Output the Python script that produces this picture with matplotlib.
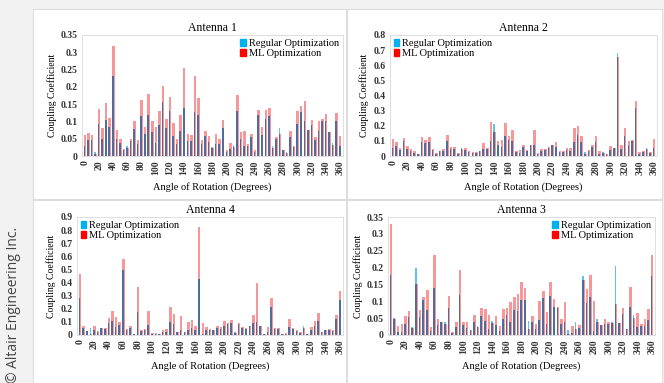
import matplotlib
matplotlib.use("Agg")
import matplotlib.pyplot as plt
from matplotlib.patches import Patch, Rectangle
from matplotlib.ticker import FuncFormatter
import numpy as np

plt.rcParams['font.family'] = ['Liberation Serif', 'DejaVu Serif']

# angles 0..360 every 5 degrees
angles = np.arange(0, 365, 5)

# Antenna 1
ant1_regular = [0.028, 0.045, 0.046, 0.012, 0.092, 0.05, 0.103, 0.085, 0.232, 0.05,
                0.038, 0.018, 0.03, 0.043, 0.078, 0.035, 0.115, 0.063, 0.12, 0.07,
                0.038, 0.09, 0.157, 0.082, 0.13, 0.057, 0.035, 0.073, 0.138, 0.042,
                0.042, 0.127, 0.12, 0.035, 0.057, 0.04, 0.025, 0.035, 0.035, 0.08,
                0.012, 0.02, 0.033, 0.13, 0.048, 0.028, 0.028, 0.055, 0.012, 0.118,
                0.062, 0.107, 0.117, 0.028, 0.05, 0.082, 0.018, 0.012, 0.055, 0.025,
                0.092, 0.127, 0.1, 0.075, 0.09, 0.045, 0.073, 0.1, 0.1, 0.068,
                0.038, 0.1, 0.03]
ant1_ml = [0.062, 0.067, 0.06, 0.005, 0.135, 0.082, 0.153, 0.11, 0.317, 0.075,
           0.05, 0.02, 0.022, 0.05, 0.1, 0.045, 0.162, 0.085, 0.18, 0.102,
           0.085, 0.13, 0.203, 0.107, 0.172, 0.095, 0.048, 0.118, 0.255, 0.065,
           0.06, 0.23, 0.168, 0.045, 0.072, 0.057, 0.022, 0.065, 0.05, 0.105,
           0.017, 0.037, 0.025, 0.177, 0.07, 0.072, 0.035, 0.065, 0.017, 0.132,
           0.085, 0.132, 0.138, 0.022, 0.055, 0.065, 0.017, 0.01, 0.072, 0.03,
           0.13, 0.145, 0.16, 0.075, 0.103, 0.055, 0.1, 0.108, 0.122, 0.07,
           0.033, 0.125, 0.057]

# Antenna 2
ant2_regular = [0.05, 0.065, 0.04, 0.1, 0.045, 0.03, 0.02, 0.01, 0.09, 0.085,
                0.09, 0.04, 0.015, 0.03, 0.03, 0.1, 0.045, 0.045, 0.015, 0.055,
                0.04, 0.025, 0.02, 0.02, 0.035, 0.045, 0.045, 0.1, 0.21, 0.075,
                0.06, 0.13, 0.105, 0.1, 0.025, 0.02, 0.06, 0.035, 0.07, 0.075,
                0.015, 0.035, 0.04, 0.055, 0.07, 0.06, 0.025, 0.025, 0.04, 0.035,
                0.09, 0.14, 0.09, 0.025, 0.035, 0.06, 0.09, 0.015, 0.025, 0.01,
                0.04, 0.05, 0.68, 0.045, 0.135, 0.075, 0.1, 0.32, 0.015, 0.025,
                0.05, 0.02, 0.055]
ant2_ml = [0.115, 0.09, 0.05, 0.12, 0.065, 0.045, 0.03, 0.01, 0.125, 0.105,
           0.125, 0.045, 0.02, 0.035, 0.045, 0.14, 0.06, 0.06, 0.02, 0.045,
           0.05, 0.03, 0.025, 0.025, 0.03, 0.085, 0.055, 0.225, 0.16, 0.1,
           0.105, 0.215, 0.135, 0.17, 0.03, 0.04, 0.07, 0.04, 0.07, 0.175,
           0.02, 0.045, 0.045, 0.06, 0.07, 0.095, 0.035, 0.03, 0.055, 0.05,
           0.185, 0.2, 0.135, 0.015, 0.04, 0.075, 0.135, 0.03, 0.02, 0.01,
           0.065, 0.05, 0.655, 0.07, 0.185, 0.1, 0.105, 0.365, 0.025, 0.03,
           0.045, 0.025, 0.11]

# Antenna 4
ant4_regular = [0.28, 0.055, 0.03, 0.055, 0.04, 0.02, 0.055, 0.045, 0.095, 0.11,
                0.06, 0.075, 0.495, 0.04, 0.055, 0.005, 0.175, 0.03, 0.04, 0.075,
                0.01, 0.01, 0.005, 0.02, 0.025, 0.1, 0.085, 0.02, 0.04, 0.02,
                0.04, 0.05, 0.04, 0.43, 0.005, 0.04, 0.035, 0.035, 0.05, 0.045,
                0.07, 0.085, 0.09, 0.02, 0.085, 0.05, 0.045, 0.065, 0.095, 0.1,
                0.065, 0.005, 0.02, 0.21, 0.045, 0.045, 0.005, 0.005, 0.06, 0.045,
                0.03, 0.015, 0.065, 0.005, 0.035, 0.065, 0.11, 0.02, 0.035, 0.035,
                0.03, 0.12, 0.265]
ant4_ml = [0.465, 0.07, 0.03, 0.01, 0.065, 0.03, 0.055, 0.05, 0.13, 0.185,
           0.14, 0.1, 0.58, 0.045, 0.065, 0.01, 0.365, 0.035, 0.045, 0.18,
           0.015, 0.015, 0.005, 0.035, 0.045, 0.215, 0.16, 0.025, 0.145, 0.02,
           0.1, 0.115, 0.065, 0.82, 0.095, 0.06, 0.045, 0.04, 0.07, 0.06,
           0.105, 0.09, 0.115, 0.015, 0.09, 0.06, 0.055, 0.065, 0.15, 0.4,
           0.07, 0.01, 0.06, 0.28, 0.055, 0.055, 0.005, 0.015, 0.12, 0.055,
           0.035, 0.02, 0.055, 0.01, 0.06, 0.11, 0.165, 0.025, 0.04, 0.045,
           0.04, 0.15, 0.335]

# Antenna 3
ant3_regular = [0.178, 0.05, 0.008, 0.008, 0.033, 0.053, 0.025, 0.198, 0.052, 0.103,
                0.073, 0.013, 0.14, 0.03, 0.04, 0.04, 0.08, 0.005, 0.025, 0.12,
                0.03, 0.02, 0.015, 0.038, 0.028, 0.055, 0.043, 0.018, 0.043, 0.03,
                0.012, 0.048, 0.06, 0.038, 0.075, 0.07, 0.103, 0.103, 0.042, 0.038,
                0.018, 0.045, 0.11, 0.033, 0.115, 0.083, 0.08, 0.033, 0.038, 0.015,
                0.005, 0.038, 0.022, 0.175, 0.095, 0.113, 0.013, 0.047, 0.03, 0.033,
                0.033, 0.038, 0.205, 0.035, 0.062, 0.017, 0.083, 0.06, 0.025, 0.028,
                0.028, 0.045, 0.175]
ant3_ml = [0.33, 0.048, 0.027, 0.033, 0.057, 0.072, 0.022, 0.15, 0.075, 0.112,
           0.132, 0.025, 0.238, 0.048, 0.04, 0.033, 0.115, 0.01, 0.04, 0.193,
           0.04, 0.038, 0.015, 0.06, 0.025, 0.08, 0.077, 0.06, 0.035, 0.055,
           0.027, 0.077, 0.08, 0.097, 0.113, 0.123, 0.157, 0.14, 0.018, 0.055,
           0.033, 0.1, 0.13, 0.067, 0.157, 0.107, 0.082, 0.047, 0.097, 0.003,
           0.027, 0.017, 0.03, 0.162, 0.135, 0.178, 0.1, 0.04, 0.03, 0.047,
           0.04, 0.035, 0.093, 0.035, 0.08, 0.018, 0.143, 0.05, 0.065, 0.033,
           0.048, 0.077, 0.237]

BLUE = '#62c2ea'
RED = '#f6979a'
DARK = '#4f6c9f'

fig = plt.figure(figsize=(6.64, 3.83), dpi=100)
fig.patch.set_facecolor('#f2f2f2')

W, H = 664.0, 383.0

def px_rect(x0, y0, x1, y1):
    # pixel box (from top-left) -> figure fraction [left, bottom, width, height]
    return [x0 / W, 1 - y1 / H, (x1 - x0) / W, (y1 - y0) / H]

# white chart areas, kept behind the axes
for box in [(33, 9, 346, 199), (347, 9, 662, 199), (33, 200, 346, 383), (347, 200, 662, 383)]:
    l, b, w, h = px_rect(*box)
    fig.patches.append(Rectangle((l, b), w, h, transform=fig.transFigure,
                                 facecolor='white', edgecolor='#dddddd', lw=0.8, zorder=-10))

panels = [
    ("Antenna 1", ant1_regular, ant1_ml, 0.35, 0.05, (82, 35, 343, 156), 'upper right'),
    ("Antenna 2", ant2_regular, ant2_ml, 0.8, 0.1, (390, 35, 657, 156), 'upper left'),
    ("Antenna 4", ant4_regular, ant4_ml, 0.9, 0.1, (77, 217, 343, 335), 'upper left'),
    ("Antenna 3", ant3_regular, ant3_ml, 0.35, 0.05, (388, 217, 655, 335), 'upper right'),
]

for title, reg, ml, ymax, ystep, box, loc in panels:
    ax = fig.add_axes(px_rect(*box), zorder=5)
    reg = np.array(reg)
    ml = np.array(ml)
    # red bar spans the pair, blue sits on its left part; overlap drawn darker
    ax.bar(angles + 0.1, ml, width=3.5, color=RED, linewidth=0)
    ax.bar(angles - 0.55, reg, width=2.2, color=BLUE, linewidth=0)
    ax.bar(angles - 0.55, np.minimum(reg, ml), width=2.2, color=DARK, linewidth=0)

    ax.set_xlim(-4, 364)
    ax.set_ylim(0, ymax)
    ax.set_xticks(np.arange(0, 361, 20))
    ax.set_xticklabels([str(v) for v in range(0, 361, 20)], rotation=90)
    ax.set_yticks(np.arange(0, ymax + ystep / 2, ystep))
    ax.yaxis.set_major_formatter(FuncFormatter(lambda v, p: '%g' % round(v, 2)))
    ax.tick_params(axis='both', length=0, pad=3, labelsize=7)
    for lab in ax.get_xticklabels() + ax.get_yticklabels():
        lab.set_fontweight('bold')
        lab.set_color('#333333')
    for s in ax.spines.values():
        s.set_color('#d9d9d9')
        s.set_linewidth(0.6)
    ax.set_title(title, fontsize=8.5, pad=3)
    ax.set_ylabel("Coupling Coefficient", fontsize=7, labelpad=3)
    ax.set_xlabel("Angle of Rotation (Degrees)", fontsize=7.5, labelpad=5)

    handles = [Patch(color='#00b0f0', label='Regular Optimization'),
               Patch(color='#ff0000', label='ML Optimization')]
    ax.legend(handles=handles, loc=loc, frameon=False, fontsize=7.5,
              handlelength=0.5, handleheight=0.6, handletextpad=0.3,
              labelspacing=0.1, borderaxespad=0.2, borderpad=0.2)

fig.text(14 / W, 1 - 305 / H, "\u00a9 Altair Engineering Inc.", rotation=90,
         ha='center', va='center', fontsize=10, color='#444444', family='Open Sans')

fig.savefig("out.png", dpi=100, facecolor=fig.get_facecolor())
